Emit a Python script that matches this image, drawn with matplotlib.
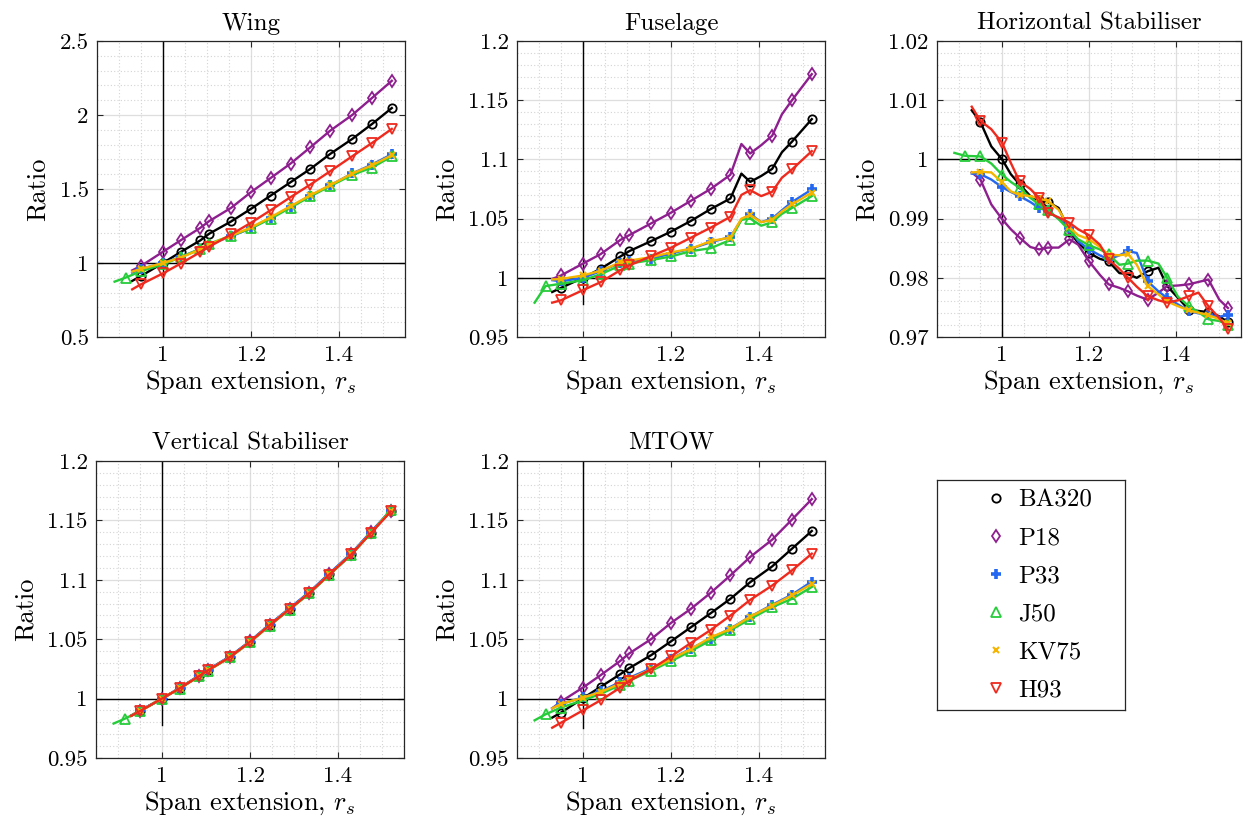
import numpy as np
import matplotlib
matplotlib.use('Agg')
import matplotlib.pyplot as plt
from matplotlib.lines import Line2D
from matplotlib.ticker import MultipleLocator, FuncFormatter

plt.rcParams['font.family'] = 'serif'
plt.rcParams['font.serif'] = ['cmr10']
plt.rcParams['mathtext.fontset'] = 'cm'
plt.rcParams['axes.formatter.use_mathtext'] = True

# span extension grid; markers sit on X_MARK points
X_MARK = [0.915, 0.95, 1.0, 1.04, 1.085, 1.105, 1.155, 1.2, 1.245, 1.29,
          1.335, 1.38, 1.43, 1.475, 1.52]
XS = [0.93, 0.95, 1.0, 1.04, 1.085, 1.105, 1.155, 1.2, 1.245, 1.29,
      1.335, 1.38, 1.43, 1.475, 1.52]
XJ = [0.89, 0.915] + XS[1:]
XF = [0.93, 0.95, 1.0, 1.04, 1.085, 1.105, 1.155, 1.2, 1.245, 1.29,
      1.335, 1.36, 1.38, 1.405, 1.43, 1.452, 1.475, 1.52]
XFJ = [0.89, 0.915] + XF[1:]
XH = [0.93, 0.95, 0.975, 1.0, 1.02, 1.04, 1.065, 1.085, 1.105, 1.13, 1.155,
      1.175, 1.2, 1.225, 1.245, 1.27, 1.29, 1.31, 1.335, 1.36, 1.38, 1.405,
      1.43, 1.452, 1.475, 1.5, 1.52]
XHJ = [0.89, 0.915] + XH[1:]

aircraft = ['BA320', 'P18', 'P33', 'J50', 'KV75', 'H93']

# Wing
wing_BA320 = [0.879, 0.912, 1.0, 1.074, 1.153, 1.198, 1.281, 1.366, 1.456, 1.546, 1.636, 1.737, 1.838, 1.939, 2.047]
wing_P18 = [0.95, 0.98, 1.076, 1.153, 1.238, 1.283, 1.373, 1.479, 1.575, 1.672, 1.782, 1.894, 2.0, 2.115, 2.231]
wing_P33 = [0.935, 0.96, 1.0, 1.04, 1.095, 1.125, 1.18, 1.235, 1.305, 1.38, 1.455, 1.525, 1.605, 1.665, 1.735]
wing_J50 = [0.874, 0.901, 0.945, 0.99, 1.04, 1.095, 1.13, 1.185, 1.235, 1.30, 1.375, 1.45, 1.52, 1.595, 1.645, 1.72]
wing_KV75 = [0.942, 0.96, 1.0, 1.036, 1.092, 1.126, 1.185, 1.24, 1.31, 1.384, 1.458, 1.526, 1.604, 1.66, 1.728]
wing_H93 = [0.822, 0.856, 0.93, 0.996, 1.074, 1.11, 1.193, 1.272, 1.357, 1.445, 1.53, 1.62, 1.721, 1.811, 1.906]

# Fuselage
fus_BA320 = [0.988, 0.9915, 1.0, 1.0076, 1.018, 1.0225, 1.031, 1.039, 1.048, 1.058, 1.067, 1.088, 1.081, 1.086, 1.092, 1.106, 1.115, 1.134]
fus_P18 = [0.999, 1.002, 1.012, 1.020, 1.032, 1.036, 1.046, 1.055, 1.065, 1.075, 1.087, 1.113, 1.105, 1.112, 1.120, 1.138, 1.150, 1.172]
fus_P33 = [0.998, 0.997, 1.0, 1.0056, 1.0127, 1.014, 1.016, 1.0205, 1.0245, 1.03, 1.0345, 1.049, 1.054, 1.047, 1.05, 1.057, 1.064, 1.0746]
fus_J50 = [0.979, 0.993, 0.995, 0.998, 1.003, 1.0105, 1.012, 1.015, 1.018, 1.0225, 1.025, 1.032, 1.049, 1.050, 1.044, 1.047, 1.054, 1.059, 1.069]
fus_KV75 = [0.9986, 0.999, 1.002, 1.006, 1.013, 1.0145, 1.0175, 1.0215, 1.0245, 1.031, 1.034, 1.050, 1.053, 1.047, 1.049, 1.056, 1.062, 1.072]
fus_H93 = [0.979, 0.981, 0.9896, 0.9963, 1.0065, 1.0104, 1.0183, 1.0254, 1.0338, 1.0423, 1.0515, 1.070, 1.074, 1.069, 1.0727, 1.0845, 1.0915, 1.107]

# Horizontal stabiliser
hs_BA320 = [1.0083, 1.0063, 1.0022, 1.0, 0.9975, 0.9958, 0.9938, 0.9932, 0.9928, 0.9918, 0.9878, 0.9859, 0.9842, 0.9832,
            0.9828, 0.9808, 0.9806, 0.9800, 0.9811, 0.9817, 0.9786, 0.9766, 0.9746, 0.9744, 0.9742, 0.9735, 0.9725]
hs_P18 = [0.9978, 0.9966, 0.9924, 0.9899, 0.9882, 0.9868, 0.9852, 0.9848, 0.9851, 0.9851, 0.9865, 0.9856, 0.9828, 0.9805,
          0.9789, 0.9783, 0.9777, 0.9770, 0.9763, 0.9775, 0.9786, 0.9787, 0.9789, 0.9793, 0.9797, 0.9763, 0.9749]
hs_P33 = [0.9976, 0.9975, 0.9966, 0.9953, 0.9945, 0.9938, 0.9928, 0.9918, 0.9913, 0.9900, 0.9884, 0.9862, 0.9848, 0.9838,
          0.9831, 0.9838, 0.9845, 0.9842, 0.9794, 0.9777, 0.9766, 0.9755, 0.9744, 0.9740, 0.9738, 0.9734, 0.9738]
hs_J50 = [1.0011, 1.0006, 1.0005, 0.9993, 0.9974, 0.9962, 0.9952, 0.9935, 0.9924, 0.9915, 0.9899, 0.9880, 0.9865, 0.9855,
          0.9848, 0.9840, 0.9822, 0.9824, 0.9829, 0.9829, 0.9824, 0.9800, 0.9768, 0.9752, 0.9742, 0.9730, 0.9727, 0.9721]
hs_KV75 = [0.9978, 0.9979, 0.9978, 0.9961, 0.9946, 0.9940, 0.9938, 0.9934, 0.9930, 0.9915, 0.9885, 0.9872, 0.9865, 0.9852,
           0.9839, 0.9838, 0.9840, 0.9822, 0.9786, 0.9772, 0.9760, 0.9752, 0.9745, 0.9741, 0.9737, 0.9730, 0.9723]
hs_H93 = [1.0089, 1.0065, 1.0051, 1.0028, 0.9994, 0.9963, 0.9950, 0.9935, 0.9910, 0.9902, 0.9893, 0.9882, 0.9872, 0.9856,
          0.9831, 0.9815, 0.9800, 0.9785, 0.9769, 0.9762, 0.9758, 0.9762, 0.9769, 0.9775, 0.9752, 0.9732, 0.9713]

# Vertical stabiliser
vs_BA320 = [0.9855, 0.9896, 1.0, 1.0087, 1.0192, 1.0240, 1.0352, 1.0479, 1.0620, 1.0755, 1.0890, 1.1045, 1.1214, 1.1397, 1.1577]
vs_P18 = [0.9857, 0.9898, 1.0, 1.0088, 1.0194, 1.0242, 1.0354, 1.0481, 1.0622, 1.0757, 1.0893, 1.1048, 1.1217, 1.1400, 1.1580]
vs_P33 = [0.9858, 0.9900, 1.0, 1.0090, 1.0196, 1.0244, 1.0357, 1.0484, 1.0626, 1.0762, 1.0898, 1.1053, 1.1222, 1.1405, 1.1585]
vs_J50 = [0.9790, 0.9830, 0.9893, 1.0, 1.0085, 1.0188, 1.0236, 1.0348, 1.0474, 1.0615, 1.0750, 1.0885, 1.1040, 1.1210, 1.1393, 1.1590]
vs_KV75 = [0.9856, 0.9897, 1.0, 1.0087, 1.0192, 1.0240, 1.0352, 1.0479, 1.0620, 1.0755, 1.0890, 1.1045, 1.1214, 1.1397, 1.1577]
vs_H93 = [0.9855, 0.9895, 1.0, 1.0086, 1.0191, 1.0239, 1.0351, 1.0478, 1.0619, 1.0754, 1.0889, 1.1044, 1.1213, 1.1395, 1.1575]

# MTOW
mtow_BA320 = [0.984, 0.9882, 1.0003, 1.0099, 1.0206, 1.0256, 1.0366, 1.0482, 1.0600, 1.0718, 1.0840, 1.0980, 1.1113, 1.1262, 1.1411]
mtow_P18 = [0.9918, 0.9975, 1.0093, 1.0197, 1.0318, 1.0380, 1.0501, 1.0637, 1.0755, 1.0890, 1.1037, 1.1192, 1.1338, 1.1507, 1.1679]
mtow_P33 = [0.992, 0.9955, 1.001, 1.006, 1.014, 1.0175, 1.0255, 1.0335, 1.042, 1.0505, 1.059, 1.069, 1.079, 1.0875, 1.0985]
mtow_J50 = [0.9817, 0.9868, 0.9925, 0.9985, 1.004, 1.0115, 1.015, 1.0235, 1.0315, 1.040, 1.049, 1.0575, 1.067, 1.077, 1.084, 1.094]
mtow_KV75 = [0.9918, 0.9955, 1.0008, 1.0056, 1.0127, 1.0163, 1.0248, 1.0332, 1.0417, 1.0515, 1.0586, 1.069, 1.0783, 1.0868, 1.0966]
mtow_H93 = [0.9755, 0.9797, 0.9901, 0.9986, 1.0093, 1.0149, 1.0248, 1.0355, 1.0468, 1.0577, 1.0699, 1.0831, 1.0952, 1.1079, 1.122]

styles = {
    'BA320': dict(color='black', marker='o', ms=6, mfc='none', mew=1.3),
    'P18': dict(color='#8E1F8E', marker='d', ms=6.5, mfc='none', mew=1.3),
    'P33': dict(color='#2468F2', marker='+', ms=7.5, mew=2.6),
    'J50': dict(color='#26CC3A', marker='^', ms=7, mfc='none', mew=1.3),
    'KV75': dict(color='#F5B400', marker='x', ms=5, mew=1.5),
    'H93': dict(color='#EE2A1E', marker='v', ms=7, mfc='none', mew=1.3),
}

panels = [
    ('Wing', [XS, XS, XS, XJ, XS, XS],
     [wing_BA320, wing_P18, wing_P33, wing_J50, wing_KV75, wing_H93],
     (0.5, 2.5), 0.5, 0.1, (0.5, 2.5)),
    ('Fuselage', [XF, XF, XF, XFJ, XF, XF],
     [fus_BA320, fus_P18, fus_P33, fus_J50, fus_KV75, fus_H93],
     (0.95, 1.2), 0.05, 0.01, (0.978, 1.2)),
    ('Horizontal Stabiliser', [XH, XH, XH, XHJ, XH, XH],
     [hs_BA320, hs_P18, hs_P33, hs_J50, hs_KV75, hs_H93],
     (0.97, 1.02), 0.01, 0.002, (0.97, 1.01)),
    ('Vertical Stabiliser', [XS, XS, XS, XJ, XS, XS],
     [vs_BA320, vs_P18, vs_P33, vs_J50, vs_KV75, vs_H93],
     (0.95, 1.2), 0.05, 0.01, (0.978, 1.2)),
    ('MTOW', [XS, XS, XS, XJ, XS, XS],
     [mtow_BA320, mtow_P18, mtow_P33, mtow_J50, mtow_KV75, mtow_H93],
     (0.95, 1.2), 0.05, 0.01, (0.975, 1.2)),
]

W, H = 1243, 825
rects = [(97, 41, 308, 296), (517, 41, 308, 296), (937, 41, 304, 296),
         (96, 461, 308, 297), (517, 461, 308, 297)]

fig = plt.figure(figsize=(W / 100, H / 100), dpi=100)
fmt = FuncFormatter(lambda v, p: f'{round(v, 4):g}')

for (title, xs_list, ys_list, ylim, ymaj, ymin, vline), (l, t, w, h) in zip(panels, rects):
    ax = fig.add_axes([l / W, 1 - (t + h) / H, w / W, h / H])
    ax.set_xlim(0.85, 1.55)
    ax.set_ylim(*ylim)
    ax.xaxis.set_major_locator(MultipleLocator(0.2))
    ax.xaxis.set_minor_locator(MultipleLocator(0.05))
    ax.yaxis.set_major_locator(MultipleLocator(ymaj))
    ax.yaxis.set_minor_locator(MultipleLocator(ymin))
    ax.xaxis.set_major_formatter(fmt)
    ax.yaxis.set_major_formatter(fmt)
    ax.grid(which='major', color='#dedede', lw=0.9)
    ax.grid(which='minor', color='#d4d4d4', lw=0.8, ls=(0, (1, 2)))
    ax.set_axisbelow(True)
    ax.tick_params(which='major', direction='in', top=True, right=True,
                   length=4, width=0.8, labelsize=16.5, pad=6, color='#262626')
    ax.tick_params(which='minor', length=0)
    for sp in ax.spines.values():
        sp.set_color('#262626')
        sp.set_linewidth(0.9)

    ax.plot([1, 1], vline, color='black', lw=1.0, zorder=1.5)
    ax.axhline(1, color='black', lw=1.0, zorder=1.5)

    for name, xs, ys in zip(aircraft, xs_list, ys_list):
        marks = [i for i, x in enumerate(xs) if np.any(np.isclose(x, X_MARK))]
        ax.plot(xs, ys, lw=1.7, markevery=marks, zorder=2, **styles[name])

    ax.set_title(title, fontsize=18, pad=8)
    ax.set_xlabel('Span extension, $r_s$', fontsize=19, labelpad=3)
    ax.set_ylabel('Ratio', fontsize=19, labelpad=7)

# legend panel
lax = fig.add_axes([937 / W, 1 - 710 / H, 188 / W, 230 / H])
lax.set_xticks([])
lax.set_yticks([])
for sp in lax.spines.values():
    sp.set_color('#262626')
    sp.set_linewidth(0.9)
handles = [Line2D([], [], ls='none', **styles[n]) for n in aircraft]
lax.legend(handles, aircraft, loc='center left', bbox_to_anchor=(0.25, 0.5),
           frameon=False, borderpad=0, borderaxespad=0, handlelength=1.0,
           handletextpad=0.35, labelspacing=0.62, fontsize=18)

fig.savefig('out.png', dpi=100)
